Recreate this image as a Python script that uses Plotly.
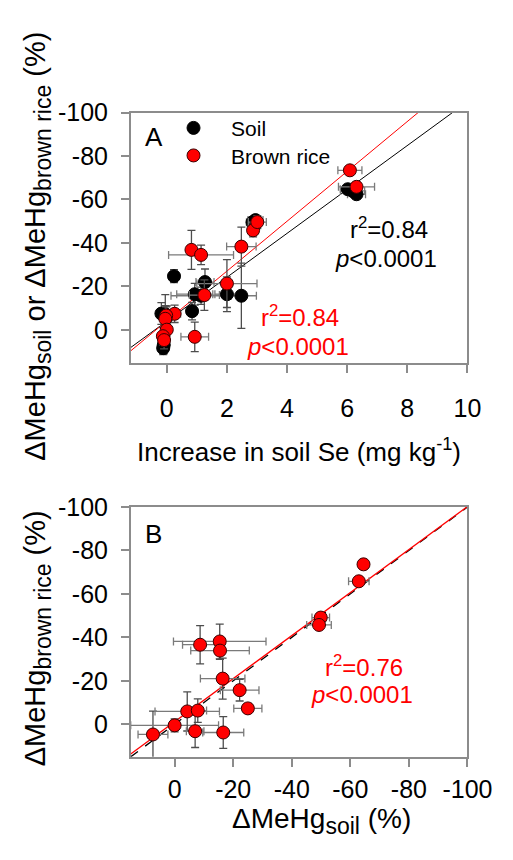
import plotly.graph_objects as go

# ---------------- Panel A data ----------------
soil_se = [0.24, 1.27, 0.93, 1.14, 2.0, 2.48, 0.84, -0.18, -0.05, 0.0, -0.1, -0.12, 2.85, 2.95, 6.02, 6.18, 6.31]
soil_dmehg = [-24.7, -22.0, -16.4, -15.7, -16.4, -15.7, -8.6, -7.5, -7.2, -6.0, 6.9, 8.4, -49.5, -50.5, -64.7, -63.9, -62.4]
soil_se_err = [0.08, 0.3, 0.6, 1.0, 0.4, 0.5, 0.1, 0.1, 0.1, 0.15, 0.1, 0.1, 0.2, 0.25, 0.25, 0.4, 0.3]
soil_dmehg_err = [3, 6, 5, 4, 8, 15, 4, 5, 9, 5, 4, 3, 2, 2, 1.5, 2, 2]

rice_se = [0.82, 1.14, 2.48, 2.87, 3.01, 2.0, 1.25, 0.26, -0.02, -0.05, 0.0, -0.13, -0.09, 0.93, 6.09, 6.31]
rice_dmehg = [-36.8, -34.5, -38.3, -45.8, -49.6, -21.3, -16.0, -7.4, -6.6, -5.1, -0.1, 2.9, 4.7, 3.2, -73.4, -65.8]
rice_se_err = [0.05, 1.08, 0.49, 0.15, 0.3, 1.0, 0.5, 0.2, 0.1, 0.1, 0.1, 0.1, 0.1, 0.46, 0.4, 0.6]
rice_dmehg_err = [9, 4.5, 9, 3, 3, 11, 7, 4, 4, 6, 3, 4, 4, 6.8, 1.5, 2]

fit_soil = {"intercept": -4.0, "slope": -10.1}
fit_rice = {"intercept": -4.1, "slope": -11.47}

# ---------------- Panel B data ----------------
b_soil = [7.4, 0.0, -4.3, -7.9, -7.0, -16.6, -8.7, -15.4, -15.5, -16.4, -22.2, -25.0, -49.9, -49.3, -64.5, -62.9]
b_rice = [4.7, 0.5, -5.9, -6.3, 3.2, 3.8, -36.6, -38.1, -33.9, -21.0, -15.7, -7.3, -49.1, -45.7, -73.6, -65.8]
b_soil_err = [5.1, 15, 11, 3, 3, 7, 6, 15.8, 10, 7.6, 6.6, 4.8, 3, 4.2, 1, 3.5]
b_rice_err = [10.7, 3, 9, 5.4, 7.5, 7.3, 8.8, 8, 4, 9.4, 5, 2.3, 2, 2, 1, 2]
fit_b = {"intercept": -1.2, "slope": 0.99}

# axes
xa_range = [-1.2, 10]
ya_range = [15.4, -100]
xb_range = [15, -100]
yb_range = [15, -100]
xa_ticks = [0, 2, 4, 6, 8, 10]
y_ticks = [-100, -80, -60, -40, -20, 0]
xb_ticks = [0, -20, -40, -60, -80, -100]

FONT = "Arial, Liberation Sans, sans-serif"
W, H = 513, 860


def px(xr):
    return xr / W


def py(yr):
    return 1 - yr / H


fig = go.Figure()


def line_pts(fit, x0, x1):
    xs = [x0, x1]
    return xs, [fit["intercept"] + fit["slope"] * x for x in xs]


# Panel A regression lines
xs, ys = line_pts(fit_soil, xa_range[0], (-100 - fit_soil["intercept"]) / fit_soil["slope"])
fig.add_trace(go.Scatter(x=xs, y=ys, mode="lines", line=dict(color="black", width=1),
                         showlegend=False, xaxis="x", yaxis="y", hoverinfo="skip"))
xs, ys = line_pts(fit_rice, xa_range[0], (-100 - fit_rice["intercept"]) / fit_rice["slope"])
fig.add_trace(go.Scatter(x=xs, y=ys, mode="lines", line=dict(color="red", width=1),
                         showlegend=False, xaxis="x", yaxis="y", hoverinfo="skip"))

errx = dict(type="data", thickness=1.3, width=4, color="#7a7a7a")
erry = dict(type="data", thickness=1.3, width=4, color="#4d4d4d")

fig.add_trace(go.Scatter(
    x=soil_se, y=soil_dmehg, mode="markers", name="\u00a0\u00a0\u00a0Soil", legend="legend",
    marker=dict(color="black", size=13, line=dict(color="black", width=1)),
    error_x=dict(array=soil_se_err, **errx), error_y=dict(array=soil_dmehg_err, **erry),
    xaxis="x", yaxis="y"))
fig.add_trace(go.Scatter(
    x=rice_se, y=rice_dmehg, mode="markers", name="\u00a0\u00a0\u00a0Brown rice", legend="legend2",
    marker=dict(color="#ff0000", size=13, line=dict(color="#3a0000", width=1)),
    error_x=dict(array=rice_se_err, **errx), error_y=dict(array=rice_dmehg_err, **erry),
    xaxis="x", yaxis="y"))

# Panel B lines
fig.add_trace(go.Scatter(x=[xb_range[0], -100], y=[yb_range[0], -100], mode="lines",
                         line=dict(color="black", width=1.3, dash="dash"),
                         showlegend=False, xaxis="x2", yaxis="y2", hoverinfo="skip"))
xs, ys = line_pts(fit_b, xb_range[0], -100)
fig.add_trace(go.Scatter(x=xs, y=ys, mode="lines", line=dict(color="red", width=1.3),
                         showlegend=False, xaxis="x2", yaxis="y2", hoverinfo="skip"))
fig.add_trace(go.Scatter(
    x=b_soil, y=b_rice, mode="markers", showlegend=False,
    marker=dict(color="#ff0000", size=13, line=dict(color="#3a0000", width=1)),
    error_x=dict(array=b_soil_err, **errx), error_y=dict(array=b_rice_err, **erry),
    xaxis="x2", yaxis="y2"))

ax_common = dict(showline=True, mirror=True, linecolor="#8c8c8c", linewidth=1.5,
                 ticks="outside", ticklen=8, tickwidth=1.5, tickcolor="#8c8c8c",
                 showgrid=False, zeroline=False,
                 tickfont=dict(family=FONT, size=25, color="black"))


def lbl(v):
    return [str(t) for t in v]


dom_x = [px(129), px(483)]
leg_common = dict(xanchor="left", yanchor="middle", bgcolor="rgba(0,0,0,0)",
                  font=dict(family=FONT, size=21, color="black"), borderwidth=0)
fig.update_layout(
    width=W, height=H, margin=dict(l=0, r=0, t=0, b=0),
    paper_bgcolor="white", plot_bgcolor="white",
    font=dict(family=FONT, color="black"),
    xaxis=dict(domain=dom_x, range=xa_range, tickvals=xa_ticks, ticktext=lbl(xa_ticks),
               anchor="y", ticklabelstandoff=14, **ax_common),
    yaxis=dict(domain=[py(347), py(92)], range=ya_range,
               tickvals=y_ticks, ticktext=lbl(y_ticks), anchor="x",
               ticklabelstandoff=8, **ax_common),
    xaxis2=dict(domain=dom_x, range=xb_range, tickvals=xb_ticks, ticktext=lbl(xb_ticks),
                anchor="y2", ticklabelstandoff=1, **ax_common),
    yaxis2=dict(domain=[py(747), py(493)], range=yb_range,
                tickvals=y_ticks, ticktext=lbl(y_ticks), anchor="x2",
                ticklabelstandoff=8, **ax_common),
    legend=dict(x=px(174), y=py(108), **leg_common),
    legend2=dict(x=px(174), y=py(136), **leg_common),
    showlegend=True,
)

SUB = '<sub><span style="font-size:23px">%s</span></sub>'
ann = [
    dict(x=px(31), y=py(228), text="ΔMeHg" + SUB % "soil" + " or ΔMeHg" + SUB % "brown rice" + " (%)",
         textangle=-90, font=dict(size=29)),
    dict(x=px(31), y=py(626), text="ΔMeHg" + SUB % "brown rice" + " (%)",
         textangle=-90, font=dict(size=29)),
    dict(x=px(306), y=py(436), text="Increase in soil Se (mg kg<sup>-1</sup>)", font=dict(size=26)),
    dict(x=px(330), y=py(792), text="ΔMeHg" + SUB % "soil" + " (%)", yanchor="top", font=dict(size=28)),
    dict(x=px(142), y=py(117), text="A", xanchor="left", font=dict(size=26)),
    dict(x=px(142), y=py(520), text="B", xanchor="left", font=dict(size=26)),
    dict(x=px(400), y=py(209), text="r<sup>2</sup>=0.84", font=dict(size=24)),
    dict(x=px(397), y=py(240), text="<i>p</i>&lt;0.0001", font=dict(size=24)),
    dict(x=px(307), y=py(299), text="r<sup>2</sup>=0.84", font=dict(size=24, color="red")),
    dict(x=px(305), y=py(330), text="<i>p</i>&lt;0.0001", font=dict(size=24, color="red")),
    dict(x=px(374), y=py(655), text="r<sup>2</sup>=0.76", font=dict(size=24, color="red")),
    dict(x=px(372), y=py(684), text="<i>p</i>&lt;0.0001", font=dict(size=24, color="red")),
]
for a in ann:
    a.setdefault("xanchor", "center")
    a.setdefault("yanchor", "middle")
    a["xref"] = "paper"
    a["yref"] = "paper"
    a["showarrow"] = False
    f = a.setdefault("font", {})
    f.setdefault("family", FONT)
    f.setdefault("color", "black")
fig.update_layout(annotations=ann)

fig.write_html("out.html")
